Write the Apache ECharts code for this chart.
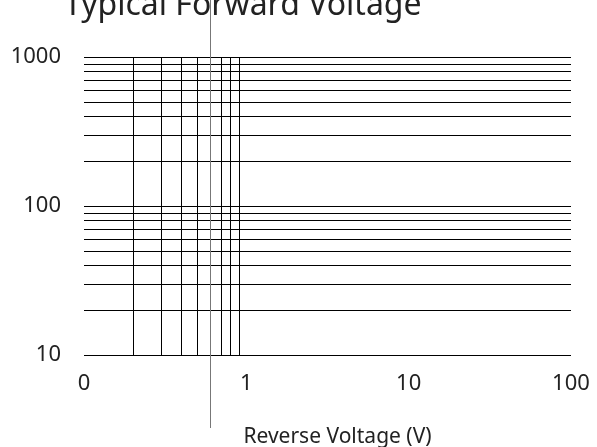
<!DOCTYPE html>
<html lang="en">
<head>
  <meta charset="UTF-8">
  <title>Typical Forward Voltage</title>
  <style>
    html, body {margin: 0; padding: 0; background: #fff;}
    #chart {width: 597px; height: 447px;}
  </style>
</head>
<body>
  <div id="chart"></div>
  <script src="https://cdn.jsdelivr.net/npm/echarts@6/dist/echarts.min.js"></script>
  <script>
    // axis ranges and tick values
    var xTicks = [0.1, 1, 10, 100];
    var xTickText = ['0', '1', '10', '100'];
    var yTicks = [10, 100, 1000];
    // minor grid lines (log decades)
    var xMinor = [0.2, 0.3, 0.4, 0.5, 0.6, 0.7, 0.8, 0.9];
    var yMinor = [20, 30, 40, 50, 60, 70, 80, 90, 200, 300, 400, 500, 600, 700, 800, 900];
    var strayX = 0.6;

    var font = 'Noto Sans';
    var chart = echarts.init(document.getElementById('chart'));

    var gridLines = [];
    xMinor.forEach(function (v) { gridLines.push({xAxis: v}); });
    yMinor.forEach(function (v) { gridLines.push({yAxis: v}); });

    var option = {
      animation: false,
      title: {
        text: 'Typical Forward Voltage',
        left: 59,
        top: -15,
        textStyle: {fontFamily: font, fontSize: 32, fontWeight: 'normal', color: '#222'}
      },
      grid: {left: 84, right: 26, top: 57, bottom: 92, containLabel: false, outerBoundsMode: 'none'},
      xAxis: {
        type: 'log',
        logBase: 10,
        min: xTicks[0],
        max: xTicks[xTicks.length - 1],
        name: 'Reverse Voltage (V)',
        nameLocation: 'middle',
        nameGap: 72,
        nameTextStyle: {fontFamily: font, fontSize: 21, color: '#222', padding: [0, 0, 0, 20], verticalAlign: 'top'},
        axisLine: {show: false},
        axisTick: {show: false},
        splitLine: {show: false},
        axisLabel: {
          fontFamily: font, fontSize: 22, color: '#222', margin: 18,
          formatter: function (v) {
            var i = xTicks.findIndex(function (t) { return Math.abs(t - v) < 1e-9; });
            return i >= 0 ? xTickText[i] : '';
          }
        }
      },
      yAxis: {
        type: 'log',
        logBase: 10,
        min: yTicks[0],
        max: yTicks[yTicks.length - 1],
        axisLine: {show: false},
        axisTick: {show: false},
        splitLine: {show: true, lineStyle: {color: '#000', width: 1}},
        axisLabel: {
          fontFamily: font, fontSize: 22, color: '#222', margin: 23,
          formatter: function (v) { return String(Math.round(v)); }
        }
      },
      series: [{
        type: 'line',
        data: [],
        silent: true,
        markLine: {
          silent: true,
          symbol: 'none',
          label: {show: false},
          lineStyle: {color: '#000', width: 1, type: 'solid'},
          data: gridLines
        }
      }]
    };

    chart.setOption(option);

    // the stray vertical rule that runs through the title
    var px = chart.convertToPixel({xAxisIndex: 0}, strayX);
    chart.setOption({
      graphic: [{
        type: 'line',
        shape: {x1: Math.round(px) + 0.5, y1: 0, x2: Math.round(px) + 0.5, y2: 428},
        style: {stroke: '#777', lineWidth: 1},
        z: 10
      }]
    });
  </script>
</body>
</html>
